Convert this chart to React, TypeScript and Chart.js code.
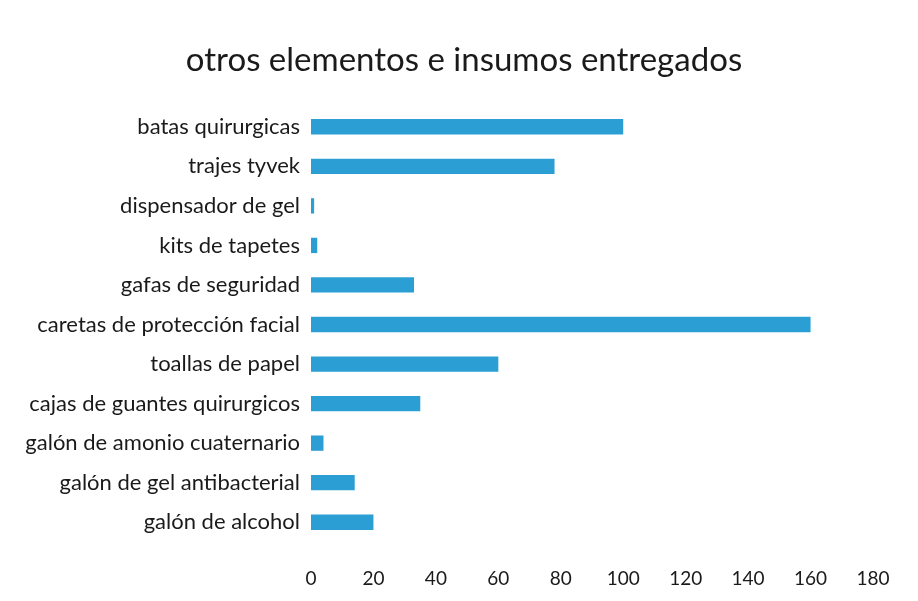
import React, { useEffect, useRef } from "react";
import { Chart, registerables } from "chart.js";

Chart.register(...registerables);

const categories = [
  "batas quirurgicas",
  "trajes tyvek",
  "dispensador de gel",
  "kits de tapetes",
  "gafas de seguridad",
  "caretas de protección facial",
  "toallas de papel",
  "cajas de guantes quirurgicos",
  "galón de amonio cuaternario",
  "galón de gel antibacterial",
  "galón de alcohol",
];
const values = [100, 78, 1, 2, 33, 160, 60, 35, 4, 14, 20];
const xTicks = [0, 20, 40, 60, 80, 100, 120, 140, 160, 180];
const title = "otros elementos e insumos entregados";

const FONT = "Lato, 'Open Sans', sans-serif";

export default function App() {
  const ref = useRef<HTMLCanvasElement | null>(null);
  useEffect(() => {
    if (!ref.current) return;
    const titlePlugin = {
      id: "customTitle",
      afterDraw(chart: any) {
        const ctx = chart.ctx;
        ctx.save();
        ctx.font = `33px ${FONT}`;
        ctx.fillStyle = "#1a1a1a";
        ctx.textAlign = "center";
        ctx.textBaseline = "middle";
        ctx.fillText(title, 464, 60);
        ctx.restore();
      },
    };
    const chart = new Chart(ref.current, {
      type: "bar",
      data: {
        labels: categories,
        datasets: [
          {
            data: values,
            backgroundColor: "#2b9fd4",
            barPercentage: 0.43,
            categoryPercentage: 0.9,
          },
        ],
      },
      options: {
        indexAxis: "y",
        animation: false,
        responsive: false,
        layout: { padding: { left: 0, right: 45, top: 107, bottom: 0 } },
        plugins: { legend: { display: false }, tooltip: { enabled: false } },
        scales: {
          x: {
            min: 0,
            max: 180,
            afterBuildTicks(scale: any) {
              scale.ticks = xTicks.map((v) => ({ value: v }));
            },
            afterFit(scale: any) {
              scale.height = 59;
            },
            grid: { display: false, drawTicks: false },
            border: { display: false },
            ticks: {
              color: "#1a1a1a",
              font: { family: FONT, size: 19 },
              padding: 25,
              maxRotation: 0,
              autoSkip: false,
            },
          },
          y: {
            afterFit(scale: any) {
              scale.width = 311;
            },
            grid: { display: false, drawTicks: false },
            border: { display: false },
            ticks: {
              color: "#1a1a1a",
              font: { family: FONT, size: 22 },
              padding: 11,
              autoSkip: false,
            },
          },
        },
      },
      plugins: [titlePlugin],
    });
    return () => chart.destroy();
  }, []);
  return (
    <div
      style={{
        position: "fixed",
        left: 0,
        top: 0,
        width: 918,
        height: 601,
        background: "#ffffff",
      }}
    >
      <canvas ref={ref} width={918} height={601} style={{ width: 918, height: 601 }} />
    </div>
  );
}
